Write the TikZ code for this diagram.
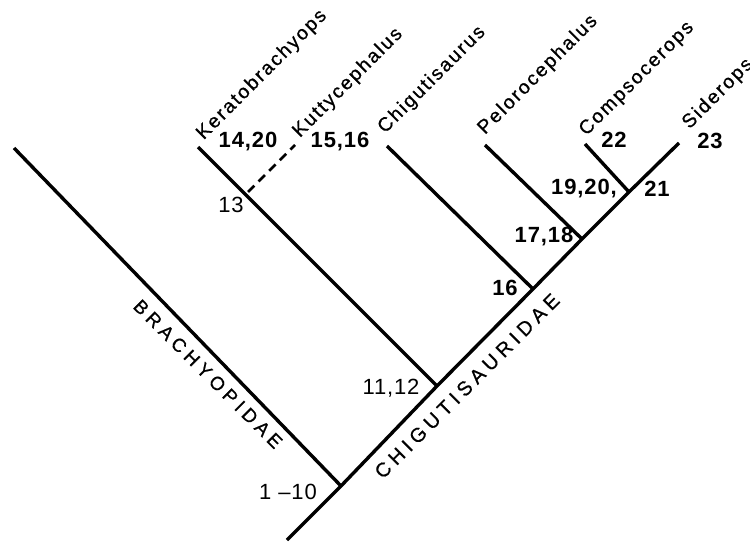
\documentclass[tikz,border=0pt]{standalone}
\usepackage{fontspec}
\setmainfont{Liberation Sans}
\newfontfamily\taxfont{Liberation Sans}[LetterSpace=10,FakeBold=0.8]
\newfontfamily\famfont{Liberation Sans}[LetterSpace=24,FakeBold=0.6]
\newfontfamily\numfont{Liberation Sans}[LetterSpace=4]
\begin{document}
\begin{tikzpicture}[x=1pt,y=-1pt,
  branch/.style={line width=3.4pt},
  dashbranch/.style={line width=2.8pt, dash pattern=on 9pt off 6pt},
  taxon/.style={rotate=45, font=\taxfont\fontsize{19.5}{19.5}\selectfont, inner sep=0pt},
  family/.style={font=\famfont\fontsize{19}{19}\selectfont, inner sep=0pt},
  num/.style={font=\numfont\bfseries\fontsize{22}{22}\selectfont, inner sep=0pt},
  numlight/.style={font=\numfont\fontsize{22}{22}\selectfont, inner sep=0pt}]
\useasboundingbox (0,0) rectangle (750,543);
% junctions
\coordinate (base) at (287,540);
\coordinate (root) at (341,486);
\coordinate (n1112) at (437,386);
\coordinate (n13) at (248,192);
\coordinate (n16) at (533,289);
\coordinate (n1718) at (582,239);
\coordinate (n21) at (629,192);
% tips
\coordinate (sid) at (679,143);
\coordinate (comp) at (585,144);
\coordinate (pelo) at (485,145);
\coordinate (chig) at (387,146);
\coordinate (kera) at (198,147);
\coordinate (kutt) at (295,145);
\coordinate (brachy) at (14,148);
% branches
\draw[branch] (base) -- (root) -- (n1112) -- (n16) -- (n1718) -- (n21) -- (sid);
\draw[branch] (brachy) -- (root);
\draw[branch] (kera) -- (n1112);
\draw[branch] (chig) -- (n16);
\draw[branch] (pelo) -- (n1718);
\draw[branch] (comp) -- (n21);
\draw[dashbranch] (n13) -- (kutt);
% taxon labels
\node[taxon] (tKera) at (262,75) {Keratobrachyops};
\node[taxon] (tKutt) at (348,83) {Kuttycephalus};
\node[taxon] (tChig) at (432,80) {Chigutisaurus};
\node[taxon] (tPelo) at (538,75) {Pelorocephalus};
\node[taxon] (tComp) at (637,79) {Compsocerops};
\node[taxon] (tSid) at (718,94) {Siderops};
% family labels
\node[family, rotate=-45] (fBrachy) at (208,374) {BRACHYOPIDAE};
\node[family, rotate=45, font=\famfont\fontsize{20}{20}\selectfont] (fChig) at (467,386) {CHIGUTISAURIDAE};
% character numbers
\node[num] (c1420) at (248,142) {14,20};
\node[num] (c1516) at (340,142) {15,16};
\node[numlight] (c13) at (231,205) {13};
\node[numlight] (c1112) at (391,388) {11,12};
\node[num] (c16) at (505,288) {16};
\node[num] (c1718) at (544,237) {17,18};
\node[num] (c1920) at (584,189) {19,20,};
\node[num] (c21) at (657,189) {21};
\node[num] (c22) at (614,140) {22};
\node[num] (c23) at (710,141) {23};
\node[numlight] (c110) at (288,492) {1 –10};
\end{tikzpicture}
\end{document}
